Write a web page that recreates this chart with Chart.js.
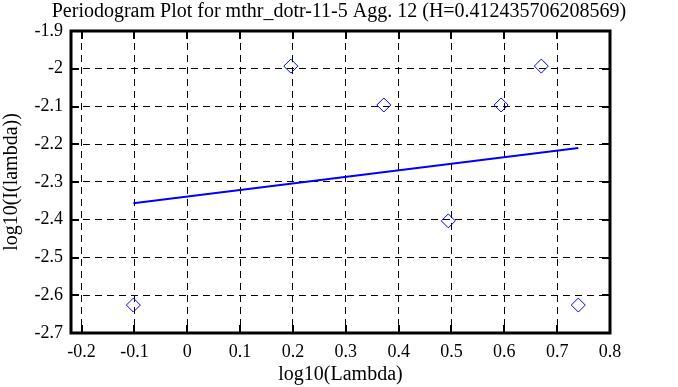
<!DOCTYPE html>
<html>
<head>
<meta charset="utf-8">
<script src="https://cdn.jsdelivr.net/npm/chart.js@4/dist/chart.umd.min.js"></script>
<style>
    body { margin: 0; background: #fff; }
    canvas { display: block; }
</style>
</head>
<body>
<canvas id="plot" width="678" height="387"></canvas>
<script>
// periodogram points, log10 of frequency against log10 of the periodogram
var lambdaLog = [-0.102, 0.196, 0.372, 0.494, 0.594, 0.670, 0.740];
var periodLog = [-2.626, -1.993, -2.096, -2.403, -2.096, -1.993, -2.626];

// least squares fit drawn across the points
var fitX = [-0.102, 0.740];
var fitY = [-2.356, -2.210];

var xTicks = [-0.2, -0.1, 0, 0.1, 0.2, 0.3, 0.4, 0.5, 0.6, 0.7, 0.8];
var yTicks = [-1.9, -2, -2.1, -2.2, -2.3, -2.4, -2.5, -2.6, -2.7];

var TITLE = 'Periodogram Plot for mthr_dotr-11-5 Agg. 12 (H=0.412435706208569)';
var FONT = 'Liberation Serif';

function toPoints(xs, ys) {
    var pts = [];
    for (var i = 0; i < xs.length; i++) {
        pts.push({x: xs[i], y: ys[i]});
    }
    return pts;
}

/**
 * Draws the heavy frame round the plot area and the short inward ticks.
 */
var framePlugin = {
    id: 'frame',
    afterDraw: function (chart) {
        var ctx = chart.ctx;
        var a = chart.chartArea;
        var xs = chart.scales.x;
        var ys = chart.scales.y;
        var len = 8;
        ctx.save();
        ctx.strokeStyle = '#000';
        ctx.setLineDash([]);
        ctx.lineWidth = 2;
        ctx.beginPath();
        for (var i = 0; i < xTicks.length; i++) {
            var px = Math.round(xs.getPixelForValue(xTicks[i]));
            ctx.moveTo(px, a.bottom);
            ctx.lineTo(px, a.bottom - len);
            ctx.moveTo(px, a.top);
            ctx.lineTo(px, a.top + len);
        }
        for (var j = 0; j < yTicks.length; j++) {
            var py = Math.round(ys.getPixelForValue(yTicks[j]));
            ctx.moveTo(a.left, py);
            ctx.lineTo(a.left + len, py);
            ctx.moveTo(a.right, py);
            ctx.lineTo(a.right - len, py);
        }
        ctx.stroke();
        ctx.lineWidth = 3;
        ctx.strokeRect(a.left, a.top, a.right - a.left, a.bottom - a.top);
        ctx.restore();
    }
};

function tickLabel(value) {
    return String(parseFloat(value.toFixed(1)));
}

new Chart(document.getElementById('plot').getContext('2d'), {
    type: 'scatter',
    data: {
        datasets: [{
            label: 'fit',
            type: 'line',
            data: toPoints(fitX, fitY),
            borderColor: '#0000ff',
            borderWidth: 2,
            pointRadius: 0,
            fill: false
        }, {
            label: 'periodogram',
            data: toPoints(lambdaLog, periodLog),
            pointStyle: 'rectRot',
            pointRadius: 7,
            pointBorderWidth: 1,
            pointBorderColor: '#0000ff',
            pointBackgroundColor: 'rgba(0,0,0,0)'
        }]
    },
    options: {
        responsive: false,
        animation: false,
        layout: {
            padding: 0
        },
        plugins: {
            legend: {display: false},
            tooltip: {enabled: false},
            title: {
                display: true,
                text: TITLE,
                color: '#000',
                font: {family: FONT, size: 20, weight: 'normal', lineHeight: 1.2},
                padding: {top: 0, bottom: 7}
            }
        },
        scales: {
            x: {
                type: 'linear',
                min: -0.22,
                max: 0.8,
                afterFit: function (scale) {
                    scale.height = 54;
                },
                ticks: {
                    stepSize: 0.1,
                    includeBounds: false,
                    padding: 8,
                    color: '#000',
                    maxRotation: 0,
                    font: {family: FONT, size: 18},
                    callback: tickLabel
                },
                grid: {color: '#000', lineWidth: 1, drawTicks: false},
                border: {display: false, dash: [7, 5]},
                title: {
                    display: true,
                    text: 'log10(Lambda)',
                    color: '#000',
                    font: {family: FONT, size: 20},
                    padding: {top: 0, bottom: 0}
                }
            },
            y: {
                type: 'linear',
                min: -2.7,
                max: -1.9,
                afterFit: function (scale) {
                    scale.width = 71;
                },
                ticks: {
                    stepSize: 0.1,
                    padding: 8,
                    color: '#000',
                    font: {family: FONT, size: 18},
                    callback: tickLabel
                },
                grid: {color: '#000', lineWidth: 1, drawTicks: false},
                border: {display: false, dash: [7, 5]},
                title: {
                    display: true,
                    text: 'log10(I(lambda))',
                    color: '#000',
                    font: {family: FONT, size: 20},
                    padding: {top: 0, bottom: 0}
                }
            },
            // empty right axis, only keeps the margin on the right
            yRight: {
                type: 'linear',
                position: 'right',
                min: -2.7,
                max: -1.9,
                afterFit: function (scale) {
                    scale.width = 68;
                },
                ticks: {display: false},
                grid: {display: false, drawTicks: false},
                border: {display: false}
            }
        }
    },
    plugins: [framePlugin]
});
</script>
</body>
</html>
